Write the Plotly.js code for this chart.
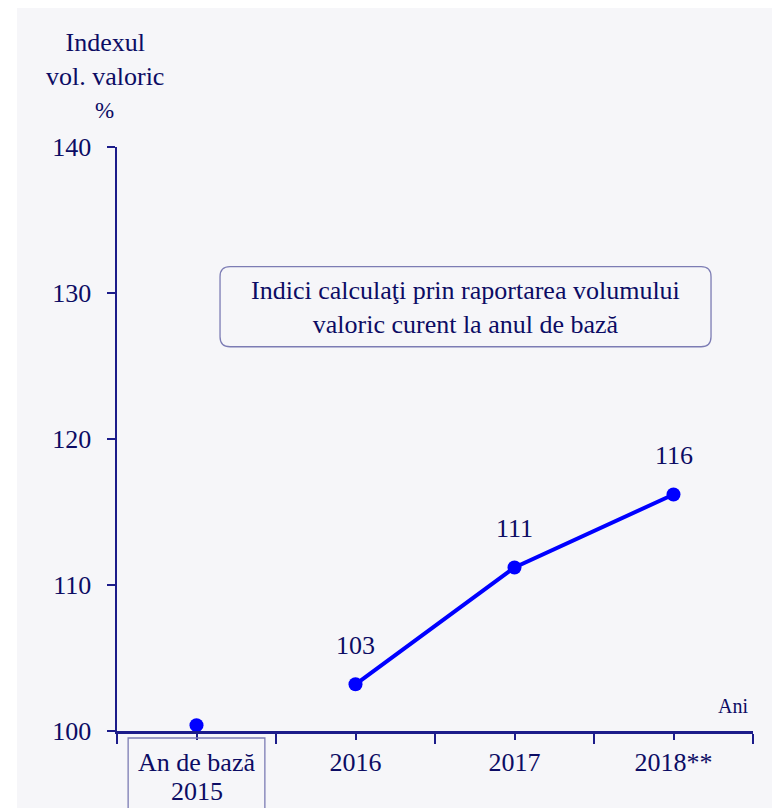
<!DOCTYPE html>
<html>
<head>
<meta charset="utf-8">
<script src="https://cdn.plot.ly/plotly-3.0.1.min.js"></script>
<style>
  body { margin: 0; background: #ffffff; }
  #chart { position: absolute; left: 17px; top: 8px; width: 755px; height: 800px; }
</style>
</head>
<body>
<div id="chart"></div>
<script>
var years = ['An de bază<br>2015', '2016', '2017', '2018**'];
var values = [100.4, 103.2, 111.2, 116.2];
var labels = ['', '103', '111', '116'];

var navy = '#0c0c64';
var axisColor = '#1c1c8a';
var serif = 'Liberation Serif';

var xpos = years.map(function (d, i) { return i; });
// first line of each label goes on the axis, a second line (base year) is set tighter below
var tickLines = years.map(function (s) { return s.split('<br>'); });

// base year: marker only
var base = {
    x: xpos.slice(0, 1),
    y: values.slice(0, 1),
    type: 'scatter',
    mode: 'markers',
    marker: {color: '#0000ff', size: 14},
    hoverinfo: 'none'
};

var trace = {
    x: xpos.slice(1),
    y: values.slice(1),
    type: 'scatter',
    mode: 'lines+markers',
    line: {color: '#0000ff', width: 4},
    marker: {color: '#0000ff', size: 14},
    hoverinfo: 'none'
};

// value labels above the points
var notes = labels.map(function (t, i) {
    return {
        x: xpos[i], y: values[i], xref: 'x', yref: 'y',
        text: t, showarrow: false, yshift: 39,
        font: {family: serif, size: 26, color: navy}
    };
}).filter(function (a) { return a.text !== ''; });

tickLines.forEach(function (l, i) {
    if (l.length > 1) {
        notes.push({
            x: xpos[i], xref: 'x', yref: 'paper', y: 0, yanchor: 'middle',
            yshift: -60, text: l[1], showarrow: false,
            font: {family: serif, size: 26, color: navy}
        });
    }
});

notes.push({
    xref: 'paper', yref: 'paper', x: -0.019, y: 1.149,
    text: 'Indexul<br>vol. valoric', showarrow: false,
    xanchor: 'center', yanchor: 'middle',
    font: {family: serif, size: 26, color: navy}
});
notes.push({
    xref: 'paper', yref: 'paper', x: -0.019, y: 1.063,
    text: '%', showarrow: false, xanchor: 'center', yanchor: 'middle',
    font: {family: serif, size: 23, color: navy}
});
notes.push({
    xref: 'paper', yref: 'paper', x: 0.969, y: 0.043,
    text: 'Ani', showarrow: false, xanchor: 'center', yanchor: 'middle',
    font: {family: serif, size: 20, color: navy}
});
notes.push({
    xref: 'paper', yref: 'paper', x: 0.548, y: 0.726,
    text: 'Indici calculaţi prin raportarea volumului<br>valoric curent la anul de bază',
    showarrow: false, xanchor: 'center', yanchor: 'middle',
    font: {family: serif, size: 26, color: navy}
});

// rounded box in paper coords
function roundBox(x0, y0, x1, y1, rx, ry) {
    return 'M ' + (x0 + rx) + ' ' + y1 +
        ' L ' + (x1 - rx) + ' ' + y1 +
        ' Q ' + x1 + ' ' + y1 + ' ' + x1 + ' ' + (y1 - ry) +
        ' L ' + x1 + ' ' + (y0 + ry) +
        ' Q ' + x1 + ' ' + y0 + ' ' + (x1 - rx) + ' ' + y0 +
        ' L ' + (x0 + rx) + ' ' + y0 +
        ' Q ' + x0 + ' ' + y0 + ' ' + x0 + ' ' + (y0 + ry) +
        ' L ' + x0 + ' ' + (y1 - ry) +
        ' Q ' + x0 + ' ' + y1 + ' ' + (x0 + rx) + ' ' + y1 + ' Z';
}

var shapes = [
    {type: 'path', xref: 'paper', yref: 'paper',
     path: roundBox(0.162, 0.658, 0.934, 0.795, 0.0157, 0.0171),
     line: {color: '#7c7cb4', width: 1.3}},
    {type: 'rect', xref: 'x', yref: 'paper', x0: -0.43, x1: 0.43, y0: -0.012, y1: -0.3,
     line: {color: '#7c7cb4', width: 1.3}}
];

var layout = {
    width: 755,
    height: 800,
    margin: {l: 100, r: 19, t: 139, b: 77},
    paper_bgcolor: '#f6f6f9',
    plot_bgcolor: '#f6f6f9',
    showlegend: false,
    xaxis: {
        range: [-0.5, 3.5],
        tickvals: xpos,
        ticktext: tickLines.map(function (l) { return l[0]; }),
        ticks: 'outside', ticklen: 6, tickwidth: 2, tickcolor: axisColor,
        minor: {tickvals: [-0.5, 0.5, 1.5, 2.5, 3.5], ticks: 'outside', ticklen: 10, tickwidth: 2, tickcolor: axisColor},
        showline: true, linecolor: axisColor, linewidth: 2.5,
        showgrid: false, zeroline: false,
        ticklabelstandoff: 0,
        tickfont: {family: serif, size: 26, color: navy}
    },
    yaxis: {
        range: [100, 140],
        dtick: 10,
        ticks: 'outside', ticklen: 8, tickwidth: 2, tickcolor: axisColor,
        showline: true, linecolor: axisColor, linewidth: 2.5,
        showgrid: false, zeroline: false,
        ticklabelstandoff: 10,
        tickfont: {family: serif, size: 26, color: navy}
    },
    annotations: notes,
    shapes: shapes
};

Plotly.newPlot('chart', [base, trace], layout, {staticPlot: true});
</script>
</body>
</html>
